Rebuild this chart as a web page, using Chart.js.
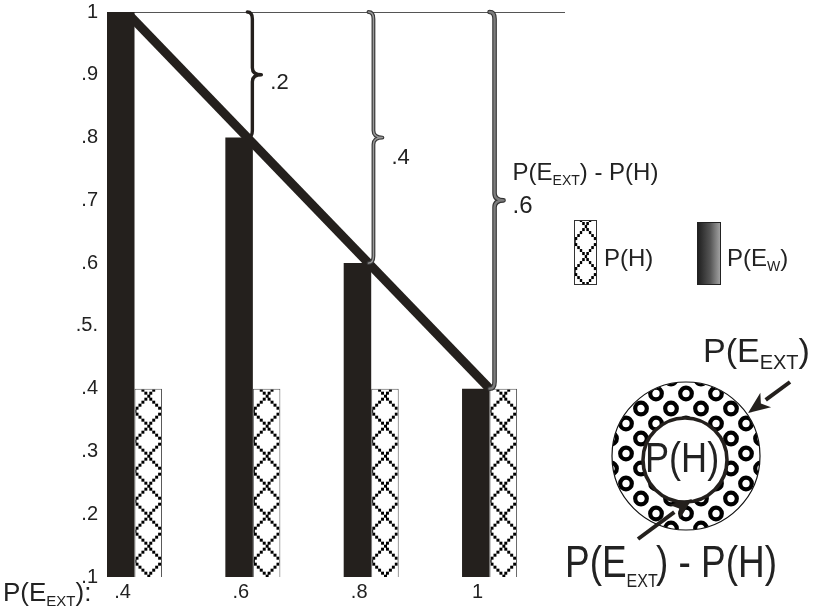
<!DOCTYPE html>
<html>
<head>
<meta charset="utf-8">
<script src="https://cdn.jsdelivr.net/npm/chart.js@4.4.1/dist/chart.umd.min.js"></script>
<style>
  html, body { margin: 0; padding: 0; background: #fff; }
  #wrap { width: 815px; height: 608px; }
</style>
</head>
<body>
<div id="wrap"><canvas id="chart" width="815" height="608"></canvas></div>
<script>
// data
const pExt = [0.4, 0.6, 0.8, 1];
const pExtLabels = ['.4', '.6', '.8', '1'];
const pEw = [1, 0.8, 0.6, 0.4];      // dark bars
const pH = [0.4, 0.4, 0.4, 0.4];      // hatched bars
const yTicks = [0.1, 0.2, 0.3, 0.4, 0.5, 0.6, 0.7, 0.8, 0.9, 1];
const yTickLabels = ['.1', '.2', '.3', '.4', '.5.', '.6', '.7', '.8', '.9', '1'];
const gapLabels = ['.2', '.4', '.6'];

const INK = '#24201d';
const FONT = '"Liberation Sans", Arial, sans-serif';
Chart.defaults.font.family = FONT;
Chart.defaults.color = '#222';

const ctx = document.getElementById('chart').getContext('2d');

// chunky dotted diamond lattice, one diamond per tile
function hatchTile() {
  const t = document.createElement('canvas');
  t.width = 28; t.height = 30;
  const g = t.getContext('2d');
  g.fillStyle = '#fff';
  g.fillRect(0, 0, 28, 30);
  g.fillStyle = '#000';
  const pts = [[14, 0], [0, 15], [14, 30], [28, 15], [14, 0]];
  for (let s = 0; s < 4; s++) {
    const [x1, y1] = pts[s], [x2, y2] = pts[s + 1];
    for (let k = 0; k <= 5; k++) {
      const x = x1 + (x2 - x1) * k / 5, y = y1 + (y2 - y1) * k / 5;
      g.fillRect(Math.round(x - 1.5), Math.round(y - 1.5), 3, 3);
    }
  }
  return t;
}

// thick little rings for the circle
function ringTile() {
  const t = document.createElement('canvas');
  t.width = 30; t.height = 30;
  const g = t.getContext('2d');
  g.fillStyle = '#fff';
  g.fillRect(0, 0, 30, 30);
  g.strokeStyle = '#000';
  g.lineWidth = 4.2;
  [[15, 7.5], [0, 22.5], [30, 22.5], [0, -7.5], [30, -7.5], [15, 37.5]].forEach(([x, y]) => {
    g.beginPath(); g.arc(x, y, 5.8, 0, Math.PI * 2); g.stroke();
  });
  return t;
}

const hatch = hatchTile();
const hatchPatterns = pH.map(() => ctx.createPattern(hatch, 'repeat'));
const legendHatch = ctx.createPattern(hatch, 'repeat');
const ringPattern = ctx.createPattern(ringTile(), 'repeat');

function runText(c, x, y, parts, sx) {
  c.save();
  c.translate(x, y);
  c.scale(sx || 1, 1);
  c.textAlign = 'left';
  c.textBaseline = 'alphabetic';
  c.fillStyle = '#222';
  let cx = 0;
  parts.forEach(p => {
    c.font = p.size + 'px ' + FONT;
    c.fillText(p.t, cx, p.dy || 0);
    cx += c.measureText(p.t).width + (p.kern || 0);
  });
  c.restore();
}

function brace(c, x, y1, y2, d) {
  const ym = (y1 + y2) / 2, r = 7;
  c.beginPath();
  c.moveTo(x - 5, y1);
  c.quadraticCurveTo(x, y1, x, y1 + r);
  c.lineTo(x, ym - r);
  c.quadraticCurveTo(x, ym, x + d, ym);
  c.quadraticCurveTo(x, ym, x, ym + r);
  c.lineTo(x, y2 - r);
  c.quadraticCurveTo(x, y2, x - 5, y2);
  c.stroke();
}

function arrow(c, x1, y1, x2, y2) {
  const ang = Math.atan2(y2 - y1, x2 - x1), L = 22, W = 9;
  const bx = x2 - Math.cos(ang) * L, by = y2 - Math.sin(ang) * L;
  c.strokeStyle = INK; c.fillStyle = INK; c.lineWidth = 4;
  c.beginPath(); c.moveTo(x1, y1); c.lineTo(bx, by); c.stroke();
  c.beginPath();
  c.moveTo(x2, y2);
  c.lineTo(bx + Math.sin(ang) * W, by - Math.cos(ang) * W);
  c.lineTo(bx + Math.cos(ang) * 6, by + Math.sin(ang) * 6);
  c.lineTo(bx - Math.sin(ang) * W, by + Math.cos(ang) * W);
  c.closePath(); c.fill();
}

const braceStyles = [
  [[INK, 3.4]],
  [['#3a3a3a', 3.8], ['#9a9a9a', 1.4]],
  [['#333', 4.6], ['#7c7c7c', 2.4]]
];
const gapLabelDy = [14, 26];

const diagram = {
  id: 'diagram',
  beforeDatasetsDraw(chart) {
    chart.getDatasetMeta(1).data.forEach((bar, i) => {
      const p = bar.getProps(['x', 'y', 'width'], true);
      hatchPatterns[i].setTransform(new DOMMatrix().translate(p.x - p.width / 2, p.y + 7).scale(p.width / 28, 1));
    });
  },
  afterDatasetsDraw(chart) {
    const c = chart.ctx, area = chart.chartArea;
    const dark = chart.getDatasetMeta(0).data.map(b => b.getProps(['x', 'y', 'width'], true));
    const top = chart.scales.y.getPixelForValue(1);
    const a = { x: dark[0].x + dark[0].width * 0.2, y: dark[0].y };
    const last = dark[dark.length - 1];
    const b = { x: last.x + last.width / 2, y: last.y };
    c.save();
    c.beginPath(); c.rect(0, area.top, chart.width, chart.height); c.clip();
    c.strokeStyle = INK; c.lineWidth = 9; c.lineCap = 'butt';
    c.beginPath(); c.moveTo(a.x, a.y); c.lineTo(b.x, b.y); c.stroke();
    c.restore();

    c.save();
    c.lineJoin = 'round'; c.lineCap = 'round';
    for (let i = 1; i < dark.length; i++) {
      const yb = dark[i].y;
      const xb = a.x + (yb - a.y) * (b.x - a.x) / (b.y - a.y) + 5;
      braceStyles[i - 1].forEach(([col, w]) => {
        c.strokeStyle = col; c.lineWidth = w;
        brace(c, xb, top, yb, 9);
      });
      const ym = (top + yb) / 2, lx = xb + 18;
      if (i < dark.length - 1) {
        runText(c, lx, ym + gapLabelDy[i - 1], [{ t: gapLabels[i - 1], size: 22 }]);
      } else {
        runText(c, lx, ym - 20, [{ t: 'P(E', size: 24 }, { t: 'EXT', size: 14, dy: 5 }, { t: ') - P(H)', size: 24 }]);
        runText(c, lx, ym + 13, [{ t: gapLabels[i - 1], size: 24 }]);
      }
    }
    c.restore();
  },
  afterDraw(chart) {
    const c = chart.ctx;
    c.save();
    // x axis caption
    runText(c, 3, 601, [{ t: 'P(E', size: 26 }, { t: 'EXT', size: 15, dy: 5 }, { t: '):', size: 26 }]);

    // legend: P(H)
    legendHatch.setTransform(new DOMMatrix().translate(574, 226).scale(23 / 28, 1));
    c.fillStyle = legendHatch; c.fillRect(574, 220, 23, 65);
    c.strokeStyle = '#333'; c.lineWidth = 1; c.strokeRect(574.5, 220.5, 22, 64);
    runText(c, 604, 266, [{ t: 'P(H)', size: 24 }]);

    // legend: P(E_W)
    const gr = c.createLinearGradient(697, 0, 721, 0);
    gr.addColorStop(0, '#1c1c1c'); gr.addColorStop(0.55, '#555'); gr.addColorStop(1, '#a8a8a8');
    c.fillStyle = gr; c.fillRect(697, 222, 24, 63);
    c.strokeStyle = '#222'; c.strokeRect(697.5, 222.5, 23, 62);
    runText(c, 727, 266, [{ t: 'P(E', size: 24 }, { t: 'W', size: 14, dy: 5 }, { t: ')', size: 24 }]);

    // circle diagram
    const cx = 686, cy = 456, R = 74, r = 42;
    ringPattern.setTransform(new DOMMatrix().translate(cx - 15, cy - 10));
    c.beginPath(); c.arc(cx, cy, R, 0, Math.PI * 2);
    c.fillStyle = ringPattern; c.fill();
    c.lineWidth = 1.2; c.strokeStyle = '#111'; c.stroke();
    c.beginPath(); c.arc(cx - 1, cy + 4, r, 0, Math.PI * 2);
    c.fillStyle = '#fff'; c.fill();
    c.lineWidth = 3.6; c.strokeStyle = INK; c.stroke();
    runText(c, 645, 472, [{ t: 'P(H)', size: 43 }], 0.84);

    runText(c, 703, 362, [{ t: 'P(E', size: 34 }, { t: 'EXT', size: 20, dy: 7 }, { t: ')', size: 34 }]);
    arrow(c, 790, 382, 748, 413);
    runText(c, 565, 577, [{ t: 'P(E', size: 44 }, { t: 'EXT', size: 19, dy: 10, kern: -2 }, { t: ') - P(H)', size: 44 }], 0.84);
    arrow(c, 638, 539, 692, 499);
    c.restore();
  }
};

new Chart(ctx, {
  type: 'bar',
  data: {
    datasets: [
      {
        label: 'P(E_W)',
        data: pExt.map((x, i) => ({ x: x, y: pEw[i] })),
        backgroundColor: INK,
        borderWidth: 0,
        categoryPercentage: 0.465,
        barPercentage: 1
      },
      {
        label: 'P(H)',
        data: pExt.map((x, i) => ({ x: x, y: pH[i] })),
        backgroundColor: hatchPatterns,
        borderColor: '#555',
        borderWidth: 1,
        categoryPercentage: 0.465,
        barPercentage: 1
      }
    ]
  },
  options: {
    responsive: false,
    animation: false,
    events: [],
    layout: { padding: { top: 12, right: 250, left: 0, bottom: 0 } },
    plugins: { legend: { display: false }, tooltip: { enabled: false } },
    scales: {
      x: {
        type: 'linear',
        min: 0.3535,
        max: 1.1275,
        offset: false,
        grid: { display: false, drawTicks: false },
        border: { display: false },
        afterBuildTicks: s => { s.ticks = pExt.map(v => ({ value: v })); },
        afterFit: s => { s.height = 31; s.paddingLeft = 0; s.paddingRight = 0; },
        ticks: {
          autoSkip: false, maxRotation: 0, padding: 3, labelOffset: -12,
          font: { size: 20 }, color: '#222',
          callback: (v, i) => pExtLabels[i]
        }
      },
      y: {
        min: 0.1,
        max: 1,
        grid: {
          drawTicks: false,
          color: c => (c.tick && c.tick.value === 1 ? '#555' : 'rgba(0,0,0,0)')
        },
        border: { display: false },
        afterBuildTicks: s => { s.ticks = yTicks.map(v => ({ value: v })); },
        afterFit: s => { s.width = 107; s.paddingTop = 0; s.paddingBottom = 0; },
        ticks: {
          autoSkip: false, padding: 9,
          font: { size: 20 }, color: '#222',
          callback: (v, i) => yTickLabels[i]
        }
      }
    }
  },
  plugins: [diagram]
});
</script>
</body>
</html>
